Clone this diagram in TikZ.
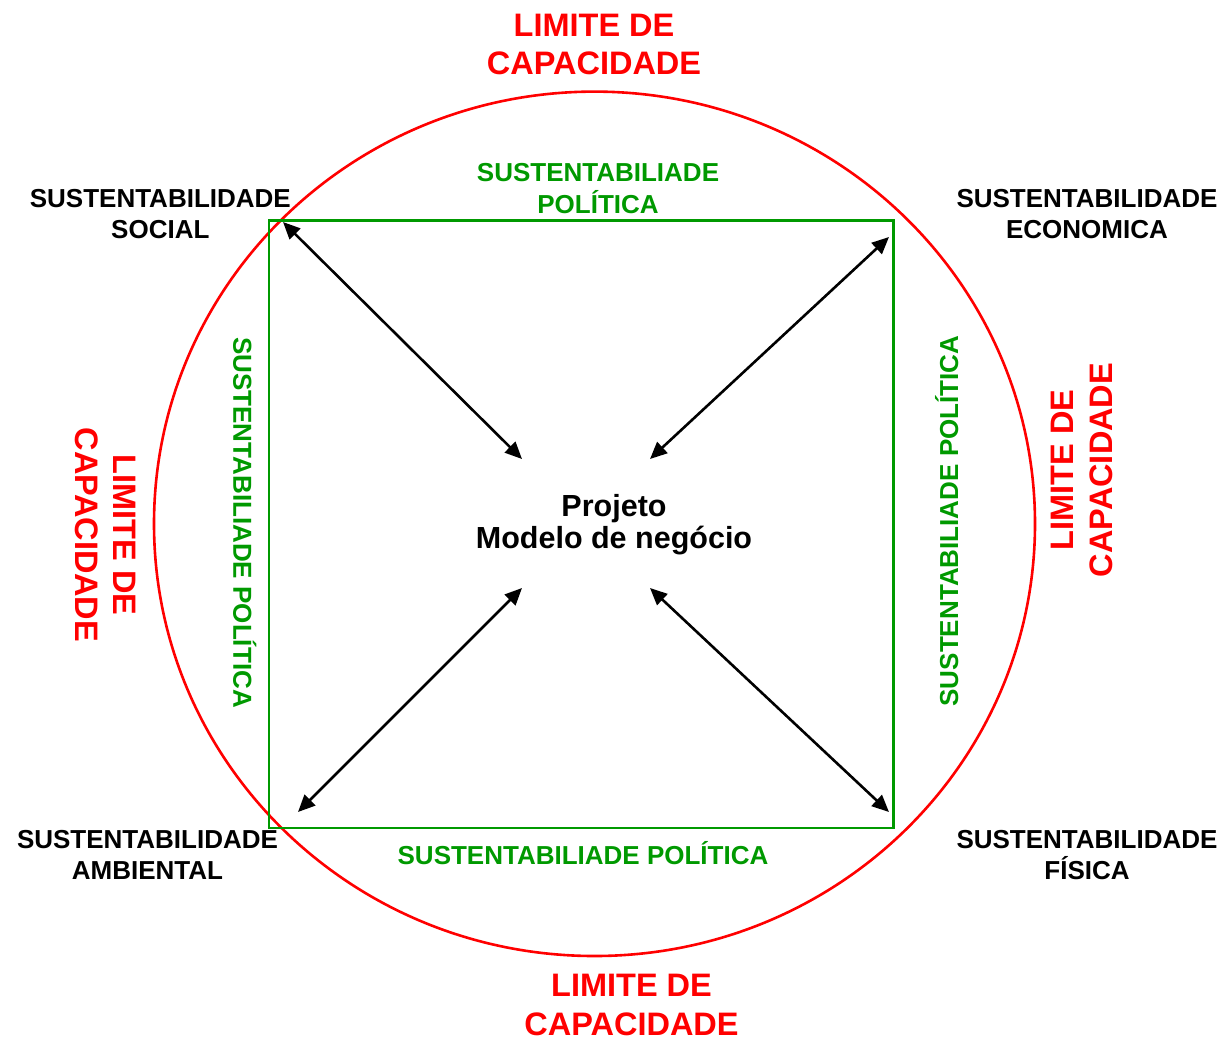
\documentclass[tikz,border=0pt]{standalone}
\usepackage{fontspec}
\setmainfont{Liberation Sans}
\usetikzlibrary{arrows.meta}
\definecolor{limred}{RGB}{255,0,0}
\definecolor{polgreen}{RGB}{0,153,0}
\begin{document}
\begin{tikzpicture}[x=1pt,y=-1pt,
  blk/.style={font=\fontsize{26}{31.4}\selectfont\bfseries, align=center, inner sep=0pt, text=black},
  limtxt/.style={font=\fontsize{32.5}{38.5}\selectfont\bfseries, align=center, inner sep=0pt, text=limred},
  poltxt/.style={font=\fontsize{26}{31.5}\selectfont\bfseries, align=center, inner sep=0pt, text=polgreen},
  ctrtxt/.style={font=\fontsize{30.5}{32}\selectfont\bfseries, align=center, inner sep=0pt, text=black},
  dblarrow/.style={{Triangle[length=17pt,width=15pt]}-{Triangle[length=17pt,width=15pt]}, line width=2.6pt, black}
]
\useasboundingbox (0,0) rectangle (1230,1042);
% outer limit
\draw[limred, line width=2.6pt] (594.5,523.8) ellipse [x radius=440.5, y radius=432.2];
% green square
\node[draw=polgreen, line width=2.5pt, minimum width=624.7pt, minimum height=607.3pt, inner sep=0pt] (sq) at (581.3,524.3) {};
% centre text
\node[ctrtxt] (ctr) at (614,525) {Projeto\\Modelo de negócio};
% arrow end points
\coordinate (tlo) at (283,222);
\coordinate (tli) at (522,459);
\coordinate (tro) at (889,237);
\coordinate (tri) at (650,459);
\coordinate (blo) at (298,812);
\coordinate (bli) at (522,588);
\coordinate (bro) at (889,812);
\coordinate (bri) at (650,588);
\draw[dblarrow] (tlo) -- (tli);
\draw[dblarrow] (tro) -- (tri);
\draw[dblarrow] (blo) -- (bli);
\draw[dblarrow] (bro) -- (bri);
% corner labels
\node[blk] (social) at (160.3,214.3) {SUSTENTABILIDADE\\SOCIAL};
\node[blk] (econ) at (1087,214) {SUSTENTABILIDADE\\ECONOMICA};
\node[blk] (amb) at (147.5,855) {SUSTENTABILIDADE\\AMBIENTAL};
\node[blk] (fis) at (1087,855) {SUSTENTABILIDADE\\FÍSICA};
% limit labels
\node[limtxt] (limT) at (594,44.5) {LIMITE DE\\CAPACIDADE};
\node[limtxt] (limB) at (631.5,1004.8) {LIMITE DE\\CAPACIDADE};
\node[limtxt, rotate=-90] (limL) at (105.5,535) {LIMITE DE\\CAPACIDADE};
\node[limtxt, rotate=90] (limR) at (1082,470) {LIMITE DE\\CAPACIDADE};
% political sustainability labels
\node[poltxt] (polT) at (598,188.3) {SUSTENTABILIADE\\POLÍTICA};
\node[poltxt, anchor=base] (polB) at (583,864) {SUSTENTABILIADE POLÍTICA};
\node[poltxt, rotate=-90, anchor=base] (polL) at (233.3,522.5) {SUSTENTABILIADE POLÍTICA};
\node[poltxt, rotate=90, anchor=base] (polR) at (958,521) {SUSTENTABILIADE POLÍTICA};
\end{tikzpicture}
\end{document}
